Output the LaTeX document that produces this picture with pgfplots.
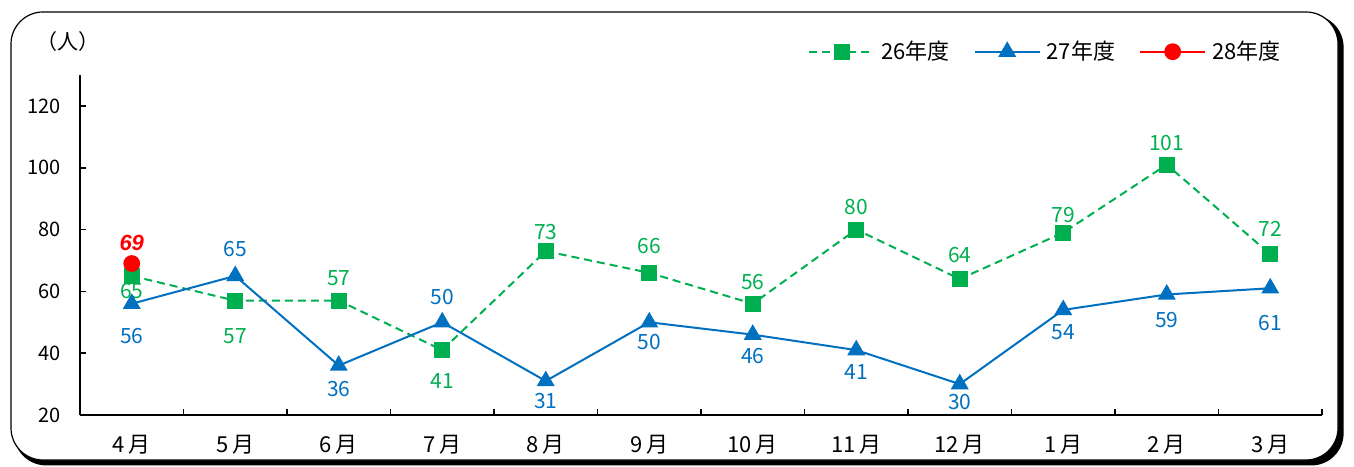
\documentclass[border=0pt]{standalone}
\usepackage{fontspec}
\setmainfont{Noto Sans CJK JP}
\newfontfamily\redfont{Liberation Sans}
\usepackage{pgfplots}
\usepackage{pgfplotstable}
\pgfplotsset{compat=1.18}
\definecolor{cgreen}{HTML}{00B050}
\definecolor{cblue}{HTML}{0070C0}
\definecolor{cred}{HTML}{FF0000}

\pgfplotstableread{
x y off
0 65 -7.8
1 57 -17.6
2 57 11.2
3 41 -15.3
4 73 9.7
5 66 13.3
6 56 11.1
7 80 11.3
8 64 12
9 79 8.9
10 101 10.8
11 72 12.8
}\tgreen
\pgfplotstableread{
x y off
0 56 -16
1 65 13.3
2 36 -11.5
3 50 12.5
4 31 -10
5 50 -10
6 46 -10.8
7 41 -11
8 30 -9
9 54 -11.1
10 59 -13
11 61 -17.5
}\tblue
\pgfplotstableread{
x y off
0 69 10.3
}\tred

\begin{document}
\begin{tikzpicture}
\path[use as bounding box] (-40pt,-25.5pt) rectangle (637pt,207.5pt);
\fill[black, rounded corners=16pt] (-33pt,-25.2pt) rectangle (631.8pt,200pt);
\draw[black, fill=white, line width=0.6pt, rounded corners=16pt] (-34.5pt,-22.5pt) rectangle (629pt,201.5pt);
\node[font=\fontsize{10.5}{12}\selectfont] at (-6pt,186.5pt) {（人）};
\begin{axis}[
  at={(0pt,0pt)}, anchor=south west,
  scale only axis, width=621pt, height=170pt,
  xmin=-0.5, xmax=11.5, ymin=20, ymax=130,
  axis x line*=bottom, axis y line*=left,
  axis line style={line width=1pt, -},
  tick align=inside,
  xtick={0,...,11},
  xticklabels={4\,月,5\,月,6\,月,7\,月,8\,月,9\,月,10\,月,11\,月,12\,月,1\,月,2\,月,3\,月},
  major x tick style={draw=none},
  minor xtick={-0.5,0.5,...,11.5},
  minor tick length=3pt,
  major tick length=3pt,
  ytick={20,40,...,120},
  tick style={line width=0.8pt, black},
  minor x tick style={line width=0.8pt, black},
  /pgf/number format/assume math mode=true,
  yticklabel style={font=\fontsize{10}{12}\selectfont, xshift=-6pt},
  xticklabel style={font=\fontsize{11}{12}\selectfont, yshift=-6.5pt},
  clip=false,
  legend style={at={(0.9702,1.0685)}, anchor=east, draw=none, fill=none, inner sep=0pt,
    font=\fontsize{11}{13}\selectfont,
    /tikz/every even column/.append style={column sep=10pt},
    /tikz/every odd column/.append style={column sep=1pt}},
  legend columns=3,
  legend cell align=left,
  legend image code/.code={\draw[mark repeat=2,mark phase=2,#1] plot coordinates {(0pt,0pt) (16.25pt,0pt) (32.5pt,0pt)};},
]
\addplot[cgreen, line width=1pt, dash pattern=on 4pt off 2.5pt, mark=square*, mark size=3.5pt, mark options={solid},
  nodes near coords, visualization depends on={\thisrow{off} \as \off},
  every node near coord/.append style={anchor=center, yshift=\off pt, font=\fontsize{10.5}{12}\selectfont, text=cgreen}]
  table[x=x,y=y] {\tgreen};
\addlegendentry{26年度}
\addplot[cblue, line width=1pt, mark=triangle*, mark size=4.2pt, mark options={solid},
  nodes near coords, visualization depends on={\thisrow{off} \as \off},
  every node near coord/.append style={anchor=center, yshift=\off pt, font=\fontsize{10.5}{12}\selectfont, text=cblue}]
  table[x=x,y=y] {\tblue};
\addlegendentry{27年度}
\addplot[cred, line width=1pt, mark=*, mark size=3.7pt, mark options={solid},
  nodes near coords, visualization depends on={\thisrow{off} \as \off},
  every node near coord/.append style={anchor=center, yshift=\off pt, font=\redfont\bfseries\itshape\fontsize{11}{12}\selectfont, text=cred}]
  table[x=x,y=y] {\tred};
\addlegendentry{28年度}
\end{axis}
\end{tikzpicture}
\end{document}
